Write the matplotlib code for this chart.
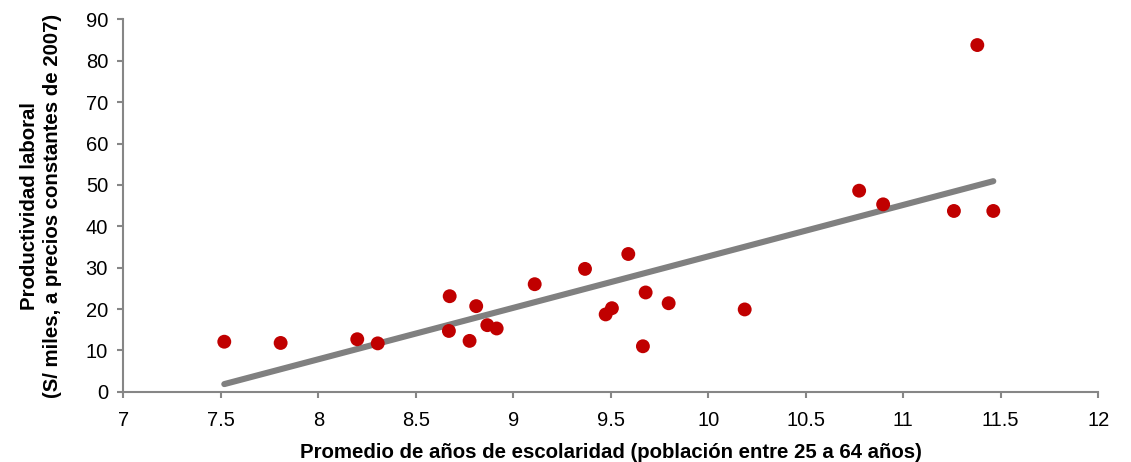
import matplotlib
matplotlib.use("Agg")
import matplotlib.pyplot as plt
import numpy as np

plt.rcParams['font.family'] = ['Liberation Sans', 'DejaVu Sans']

# Data: average years of schooling vs labour productivity
escolaridad = [7.518, 7.807, 8.200, 8.305, 8.674, 8.670, 8.776, 8.810, 8.867, 8.915,
               9.110, 9.368, 9.474, 9.506, 9.590, 9.665, 9.679, 9.797, 10.187,
               10.774, 10.897, 11.260, 11.380, 11.462]
productividad = [12.1, 11.8, 12.7, 11.7, 23.1, 14.7, 12.3, 20.7, 16.1, 15.3,
                 26.0, 29.7, 18.7, 20.2, 33.3, 11.0, 24.0, 21.4, 19.9,
                 48.6, 45.3, 43.7, 83.8, 43.7]

xticks = [7, 7.5, 8, 8.5, 9, 9.5, 10, 10.5, 11, 11.5, 12]
xticklabels = ["7", "7.5", "8", "8.5", "9", "9.5", "10", "10.5", "11", "11.5", "12"]
yticks = [0, 10, 20, 30, 40, 50, 60, 70, 80, 90]

xlabel = "Promedio de años de escolaridad (población entre 25 a 64 años)"
ylabel = "Productividad laboral\n(S/ miles, a precios constantes de 2007)"

fig = plt.figure(figsize=(11.31, 4.62), dpi=100)
ax = fig.add_axes([0.109, 0.152, 0.862, 0.806])

x = np.array(escolaridad)
y = np.array(productividad)
slope, intercept = np.polyfit(x, y, 1)
xl = np.array([x.min(), x.max()])
ax.plot(xl, slope * xl + intercept, color='#808080', lw=4.4, solid_capstyle='round', zorder=2)
ax.scatter(x, y, s=100, color='#C00000', edgecolors='none', zorder=3)

ax.set_xlim(7, 12)
ax.set_ylim(0, 90)
ax.set_xticks(xticks)
ax.set_xticklabels(xticklabels)
ax.set_yticks(yticks)

for s in ['top', 'right']:
    ax.spines[s].set_visible(False)
for s in ['left', 'bottom']:
    ax.spines[s].set_color('#868686')
    ax.spines[s].set_linewidth(1.5)
ax.tick_params(axis='both', direction='out', length=4, width=1.5, color='#868686',
               labelsize=14.5, labelcolor='black')
ax.tick_params(axis='y', pad=7)
ax.tick_params(axis='x', pad=10)

ax.set_xlabel(xlabel, fontsize=14.7, fontweight='bold', labelpad=9)
ax.set_ylabel(ylabel, fontsize=14.7, fontweight='bold', labelpad=17, linespacing=1.3)

fig.savefig("out.png", dpi=100)
